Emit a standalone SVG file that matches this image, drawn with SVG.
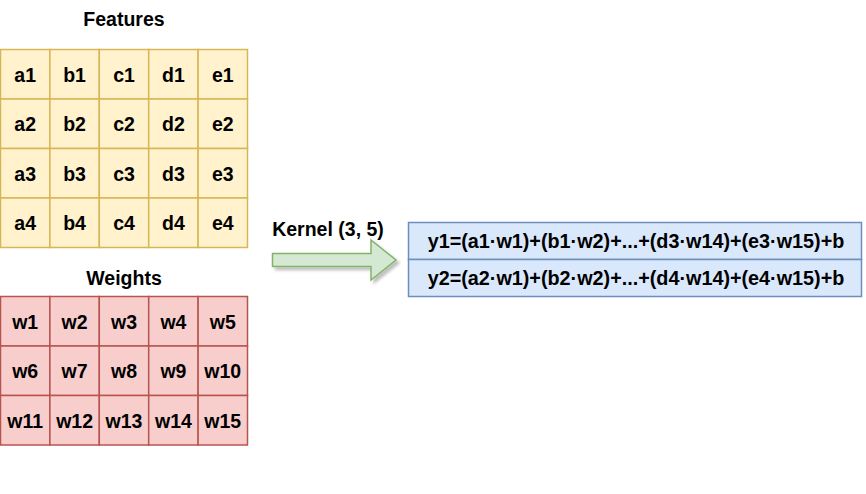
<svg xmlns="http://www.w3.org/2000/svg" width="866" height="494" viewBox="0 0 866 494">
<defs>
<style>
text{font-family:"Liberation Sans",Arial,sans-serif;font-weight:bold;font-size:19.5px;fill:#000;text-anchor:middle}
.f rect{fill:#fff2cc;stroke:#d6b656;stroke-width:1.5}
.w rect{fill:#f8cecc;stroke:#b85450;stroke-width:1.5}
.b rect{fill:#dae8fc;stroke:#6c8ebf;stroke-width:1.5}
.b text{font-size:19.8px}
.arrow{fill:#d5e8d4;stroke:#82b366;stroke-width:1.5;filter:url(#sh)}
</style>
<filter id="sh" x="-20%" y="-40%" width="150%" height="200%">
<feDropShadow dx="3" dy="3" stdDeviation="1.5" flood-color="#000" flood-opacity="0.25"/>
</filter>
</defs>
<rect width="866" height="494" fill="#fff"/>
<g id="title-features"><text x="124" y="26">Features</text></g>
<g id="title-weights"><text x="124" y="285">Weights</text></g>
<g id="features" class="f">
<g id="a1"><rect x="0.5" y="49.5" width="49.4" height="49.5"/><text x="25.2" y="81.5">a1</text></g>
<g id="b1"><rect x="49.9" y="49.5" width="49.4" height="49.5"/><text x="74.6" y="81.5">b1</text></g>
<g id="c1"><rect x="99.3" y="49.5" width="49.4" height="49.5"/><text x="124" y="81.5">c1</text></g>
<g id="d1"><rect x="148.7" y="49.5" width="49.4" height="49.5"/><text x="173.4" y="81.5">d1</text></g>
<g id="e1"><rect x="198.1" y="49.5" width="49.4" height="49.5"/><text x="222.8" y="81.5">e1</text></g>
<g id="a2"><rect x="0.5" y="99" width="49.4" height="49.5"/><text x="25.2" y="131">a2</text></g>
<g id="b2"><rect x="49.9" y="99" width="49.4" height="49.5"/><text x="74.6" y="131">b2</text></g>
<g id="c2"><rect x="99.3" y="99" width="49.4" height="49.5"/><text x="124" y="131">c2</text></g>
<g id="d2"><rect x="148.7" y="99" width="49.4" height="49.5"/><text x="173.4" y="131">d2</text></g>
<g id="e2"><rect x="198.1" y="99" width="49.4" height="49.5"/><text x="222.8" y="131">e2</text></g>
<g id="a3"><rect x="0.5" y="148.5" width="49.4" height="49.5"/><text x="25.2" y="180.5">a3</text></g>
<g id="b3"><rect x="49.9" y="148.5" width="49.4" height="49.5"/><text x="74.6" y="180.5">b3</text></g>
<g id="c3"><rect x="99.3" y="148.5" width="49.4" height="49.5"/><text x="124" y="180.5">c3</text></g>
<g id="d3"><rect x="148.7" y="148.5" width="49.4" height="49.5"/><text x="173.4" y="180.5">d3</text></g>
<g id="e3"><rect x="198.1" y="148.5" width="49.4" height="49.5"/><text x="222.8" y="180.5">e3</text></g>
<g id="a4"><rect x="0.5" y="198" width="49.4" height="49.5"/><text x="25.2" y="230">a4</text></g>
<g id="b4"><rect x="49.9" y="198" width="49.4" height="49.5"/><text x="74.6" y="230">b4</text></g>
<g id="c4"><rect x="99.3" y="198" width="49.4" height="49.5"/><text x="124" y="230">c4</text></g>
<g id="d4"><rect x="148.7" y="198" width="49.4" height="49.5"/><text x="173.4" y="230">d4</text></g>
<g id="e4"><rect x="198.1" y="198" width="49.4" height="49.5"/><text x="222.8" y="230">e4</text></g>
</g>
<g id="weights" class="w">
<g id="w1"><rect x="0.5" y="296.5" width="49.4" height="49.5"/><text x="25.2" y="328.5">w1</text></g>
<g id="w2"><rect x="49.9" y="296.5" width="49.4" height="49.5"/><text x="74.6" y="328.5">w2</text></g>
<g id="w3"><rect x="99.3" y="296.5" width="49.4" height="49.5"/><text x="124" y="328.5">w3</text></g>
<g id="w4"><rect x="148.7" y="296.5" width="49.4" height="49.5"/><text x="173.4" y="328.5">w4</text></g>
<g id="w5"><rect x="198.1" y="296.5" width="49.4" height="49.5"/><text x="222.8" y="328.5">w5</text></g>
<g id="w6"><rect x="0.5" y="346" width="49.4" height="49.5"/><text x="25.2" y="378">w6</text></g>
<g id="w7"><rect x="49.9" y="346" width="49.4" height="49.5"/><text x="74.6" y="378">w7</text></g>
<g id="w8"><rect x="99.3" y="346" width="49.4" height="49.5"/><text x="124" y="378">w8</text></g>
<g id="w9"><rect x="148.7" y="346" width="49.4" height="49.5"/><text x="173.4" y="378">w9</text></g>
<g id="w10"><rect x="198.1" y="346" width="49.4" height="49.5"/><text x="222.8" y="378">w10</text></g>
<g id="w11"><rect x="0.5" y="395.5" width="49.4" height="49.5"/><text x="25.2" y="427.5">w11</text></g>
<g id="w12"><rect x="49.9" y="395.5" width="49.4" height="49.5"/><text x="74.6" y="427.5">w12</text></g>
<g id="w13"><rect x="99.3" y="395.5" width="49.4" height="49.5"/><text x="124" y="427.5">w13</text></g>
<g id="w14"><rect x="148.7" y="395.5" width="49.4" height="49.5"/><text x="173.4" y="427.5">w14</text></g>
<g id="w15"><rect x="198.1" y="395.5" width="49.4" height="49.5"/><text x="222.8" y="427.5">w15</text></g>
</g>
<g id="connectors">
<g id="kernel-arrow">
<path class="arrow" d="M272.5,253.5 L371,253.5 L371,240 L396,260 L371,280 L371,266.5 L272.5,266.5 Z"/>
<text x="328" y="236">Kernel (3, 5)</text>
</g>
</g>
<g id="outputs" class="b">
<g id="y1"><rect x="408.5" y="222.5" width="453" height="37"/><text x="636" y="248">y1=(a1·w1)+(b1·w2)+...+(d3·w14)+(e3·w15)+b</text></g>
<g id="y2"><rect x="408.5" y="259.5" width="453" height="37"/><text x="636" y="285">y2=(a2·w1)+(b2·w2)+...+(d4·w14)+(e4·w15)+b</text></g>
</g>
</svg>
